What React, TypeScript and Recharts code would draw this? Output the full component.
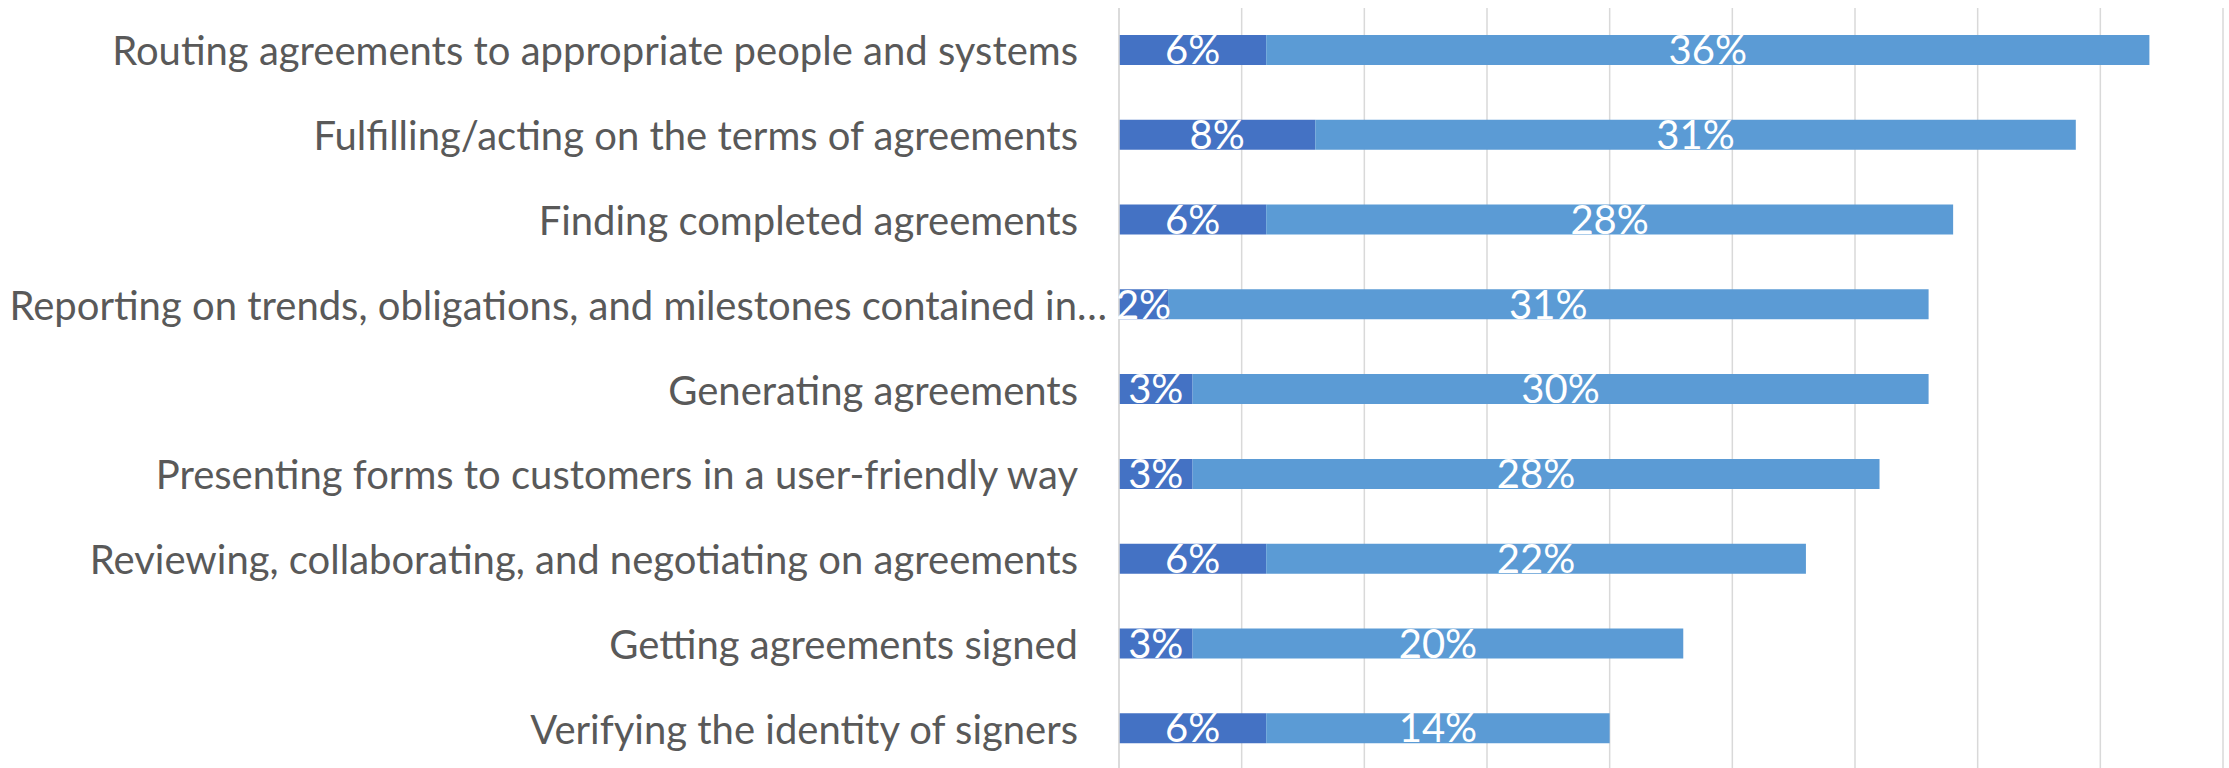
import React from "react";
import { BarChart, Bar, XAxis, YAxis, CartesianGrid, LabelList } from "recharts";

const categories = [
  "Routing agreements to appropriate people and systems",
  "Fulfilling/acting on the terms of agreements",
  "Finding completed agreements",
  "Reporting on trends, obligations, and milestones contained in…",
  "Generating agreements",
  "Presenting forms to customers in a user-friendly way",
  "Reviewing, collaborating, and negotiating on agreements",
  "Getting agreements signed",
  "Verifying the identity of signers",
];
const seriesA = [6, 8, 6, 2, 3, 3, 6, 3, 6];
const seriesB = [36, 31, 28, 31, 30, 28, 22, 20, 14];
const xTicks = [0, 5, 10, 15, 20, 25, 30, 35, 40, 45];

const data = categories.map((name, i) => ({ name, a: seriesA[i], b: seriesB[i] }));

const FONT = "Lato, 'Open Sans', sans-serif";

const CategoryTick = (props: any) => {
  const { x, y, payload } = props;
  const text: string = payload.value;
  const truncated = text.endsWith("…");
  return (
    <text
      x={x - (truncated ? 4 : 33)}
      y={y}
      textAnchor="end"
      dominantBaseline="central"
      fill="#595959"
      fontSize={40}
      fontFamily={FONT}
    >
      {text}
    </text>
  );
};

const EmptyTick = () => <g />;

const pct = (v: any) => `${v}%`;

export default function App() {
  return (
    <div style={{ position: "fixed", left: 0, top: 0, width: 2229, height: 768, overflow: "hidden", background: "#fff" }}>
      <BarChart
        width={2229}
        height={772}
        data={data}
        layout="vertical"
        margin={{ top: 8, right: 6, bottom: 0, left: 0 }}
        barSize={30}
      >
        <CartesianGrid horizontal={false} vertical={true} stroke="#d9d9d9" strokeWidth={1.5} />
        <XAxis
          type="number"
          domain={[0, 45]}
          ticks={xTicks}
          tick={EmptyTick}
          tickLine={false}
          axisLine={false}
          height={1}
          interval={0}
        />
        <YAxis
          type="category"
          dataKey="name"
          width={1119}
          tick={<CategoryTick />}
          tickLine={false}
          axisLine={{ stroke: "#d9d9d9", strokeWidth: 1.5 }}
          interval={0}
        />
        <Bar dataKey="a" stackId="s" fill="#4472C4" isAnimationActive={false}>
          <LabelList dataKey="a" position="center" formatter={pct} fill="#ffffff" fontSize={40} fontFamily={FONT} />
        </Bar>
        <Bar dataKey="b" stackId="s" fill="#5B9BD5" isAnimationActive={false}>
          <LabelList dataKey="b" position="center" formatter={pct} fill="#ffffff" fontSize={40} fontFamily={FONT} />
        </Bar>
      </BarChart>
    </div>
  );
}
